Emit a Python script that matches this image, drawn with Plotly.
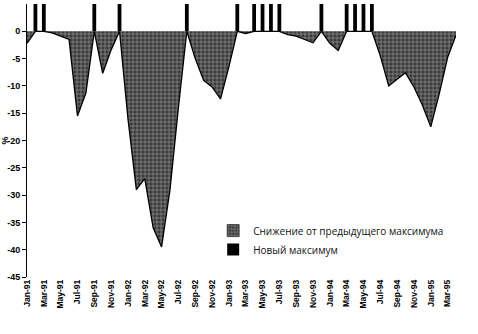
import plotly.graph_objects as go

# Monthly months from Jan-91 to Apr-95
months = [
    "Jan-91", "Feb-91", "Mar-91", "Apr-91", "May-91", "Jun-91", "Jul-91", "Aug-91", "Sep-91", "Oct-91", "Nov-91", "Dec-91",
    "Jan-92", "Feb-92", "Mar-92", "Apr-92", "May-92", "Jun-92", "Jul-92", "Aug-92", "Sep-92", "Oct-92", "Nov-92", "Dec-92",
    "Jan-93", "Feb-93", "Mar-93", "Apr-93", "May-93", "Jun-93", "Jul-93", "Aug-93", "Sep-93", "Oct-93", "Nov-93", "Dec-93",
    "Jan-94", "Feb-94", "Mar-94", "Apr-94", "May-94", "Jun-94", "Jul-94", "Aug-94", "Sep-94", "Oct-94", "Nov-94", "Dec-94",
    "Jan-95", "Feb-95", "Mar-95", "Apr-95",
]

# Drawdown from previous peak, %
drawdown = [
    -2.2, 0, 0, -0.3, -0.9, -1.5, -15.5, -11.3, 0, -7.7, -3.4, 0,
    -16.0, -29.0, -27.0, -36.0, -39.5, -29.0, -14.0, 0, -5.0, -9.0, -10.2, -12.4,
    -6.5, 0, -0.4, 0, 0, 0, 0, -0.6, -0.9, -1.5, -2.1, 0,
    -2.2, -3.5, 0, 0, 0, 0, -4.5, -10.0, -8.8, -7.6, -10.2, -13.5,
    -17.5, -11.5, -4.8, -0.7,
]

# 1 where the month set a new high
new_high = [
    0, 1, 1, 0, 0, 0, 0, 0, 1, 0, 0, 1,
    0, 0, 0, 0, 0, 0, 0, 1, 0, 0, 0, 0,
    0, 1, 0, 1, 1, 1, 1, 0, 0, 0, 0, 1,
    0, 0, 1, 1, 1, 1, 0, 0, 0, 0, 0, 0,
    0, 0, 0, 0,
]

y_ticks = [0, -5, -10, -15, -20, -25, -30, -35, -40, -45]
bar_top = 5  # new-high markers reach the top of the value axis

area_pattern = dict(shape="+", bgcolor="#3a3a3a", fgcolor="#f2f2f2",
                    size=4, solidity=0.3)
dd_name = "Снижение от предыдущего максимума"

fig = go.Figure()

fig.add_trace(go.Scatter(
    x=months, y=drawdown,
    mode="lines",
    fill="tozeroy",
    line=dict(color="black", width=1.3),
    fillcolor="#444444",
    fillpattern=area_pattern,
    name=dd_name,
    showlegend=False,
))

# legend swatch for the shaded area (square key, like the bar key)
fig.add_trace(go.Bar(
    x=[None], y=[None],
    marker=dict(color="#444444", pattern=area_pattern, line=dict(width=0.6, color="black")),
    name=dd_name,
))

fig.add_trace(go.Bar(
    x=months, y=[bar_top * f for f in new_high],
    marker=dict(color="black", line=dict(width=0)),
    width=0.45,
    name="Новый максимум",
))

fig.update_layout(
    width=478, height=334,
    margin=dict(l=27, r=22, t=4, b=57),
    paper_bgcolor="white", plot_bgcolor="white",
    showlegend=True,
    barmode="overlay",
    legend=dict(x=0.434, y=0.223, xanchor="left", yanchor="top",
                bgcolor="rgba(0,0,0,0)", itemwidth=30, tracegroupgap=0,
                font=dict(family="Open Sans", size=10, color="#111")),
)

fig.update_xaxes(
    type="category",
    range=[0, 51],
    tickvals=months[::2],
    ticktext=months[::2],
    tickangle=-90,
    tickfont=dict(family="Liberation Sans", size=8.5, color="black", weight="bold"),
    showgrid=False, showline=False, ticks="", zeroline=False,
    automargin=False,
)

fig.update_yaxes(
    range=[-45, 5],
    tickvals=y_ticks,
    ticktext=[str(v) for v in y_ticks],
    tickfont=dict(family="Liberation Sans", size=9, color="black", weight="bold"),
    showgrid=False,
    showline=True, linecolor="black", linewidth=1,
    ticks="outside", ticklen=4, tickcolor="black",
    zeroline=False,
    automargin=False,
    title=dict(text="%", font=dict(family="Liberation Sans", size=9, color="black", weight="bold"),
               standoff=2),
)

fig.write_html("out.html")
